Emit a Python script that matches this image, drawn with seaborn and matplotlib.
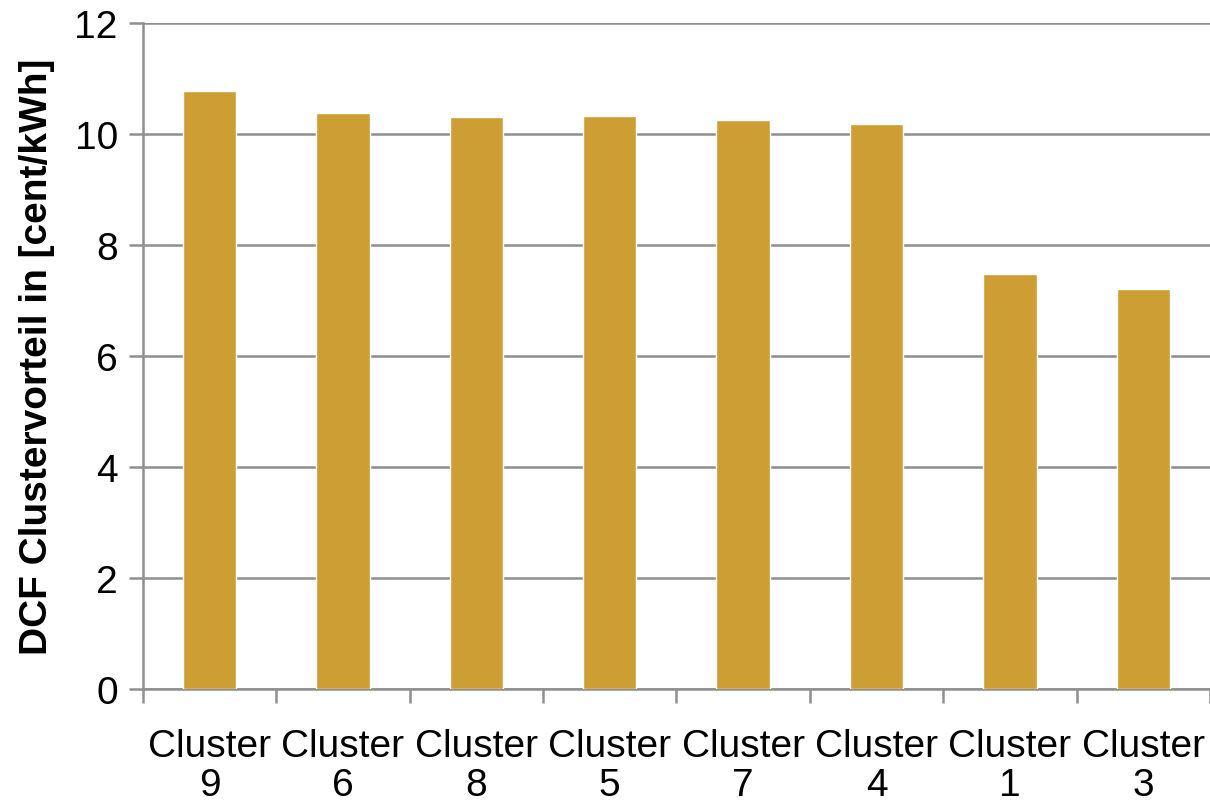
import matplotlib
matplotlib.use("Agg")
import matplotlib.pyplot as plt
import seaborn as sns
import pandas as pd
from matplotlib.ticker import FixedLocator

# Werte aus dem Diagramm
cluster = ["Cluster\n9", "Cluster\n6", "Cluster\n8", "Cluster\n5",
           "Cluster\n7", "Cluster\n4", "Cluster\n1", "Cluster\n3"]
vorteil = [10.77, 10.38, 10.31, 10.32, 10.25, 10.18, 7.47, 7.21]
y_ticks = [0, 2, 4, 6, 8, 10, 12]

df = pd.DataFrame({"cluster": cluster, "vorteil": vorteil})

sns.set_style("white")
plt.rcParams["font.family"] = ["Liberation Sans", "DejaVu Sans"]
plt.rcParams["text.color"] = "black"
plt.rcParams["axes.labelcolor"] = "black"
plt.rcParams["xtick.color"] = "black"
plt.rcParams["ytick.color"] = "black"

fig = plt.figure(figsize=(12.1, 8.04), dpi=100)
ax = fig.add_axes([0.118, 0.142, 0.882, 0.828])

sns.barplot(data=df, x="cluster", y="vorteil", color="#CC9E33",
            width=0.4, saturation=1, ax=ax, zorder=3)

grau = "#8f8f8f"
ax.set_xlim(-0.5, 7.5)
ax.set_ylim(0, 12)
ax.set_yticks(y_ticks)
ax.yaxis.grid(True, color=grau, linewidth=1.8, zorder=0)
ax.set_axisbelow(True)

for s in ["top", "right"]:
    ax.spines[s].set_visible(False)
for s in ["left", "bottom"]:
    ax.spines[s].set_color(grau)
    ax.spines[s].set_linewidth(1.8)

# Teilstriche zwischen den Kategorien
ax.xaxis.set_minor_locator(FixedLocator([i - 0.5 for i in range(len(cluster) + 1)]))
ax.tick_params(axis="x", which="major", bottom=False, pad=25, labelsize=28)
ax.tick_params(axis="x", which="minor", bottom=True, length=10, width=1.8,
               color=grau, direction="out")
ax.tick_params(axis="y", which="major", left=True, length=10, width=1.8, color=grau,
               labelcolor="black", direction="out", labelsize=28, pad=8)
for lbl in ax.get_xticklabels():
    lbl.set_linespacing(1.1)

ax.set_xlabel("")
ax.set_ylabel("DCF Clustervorteil in [cent/kWh]", fontsize=28, fontweight="bold",
              labelpad=14, color="black")

fig.savefig("out.png", dpi=100)
